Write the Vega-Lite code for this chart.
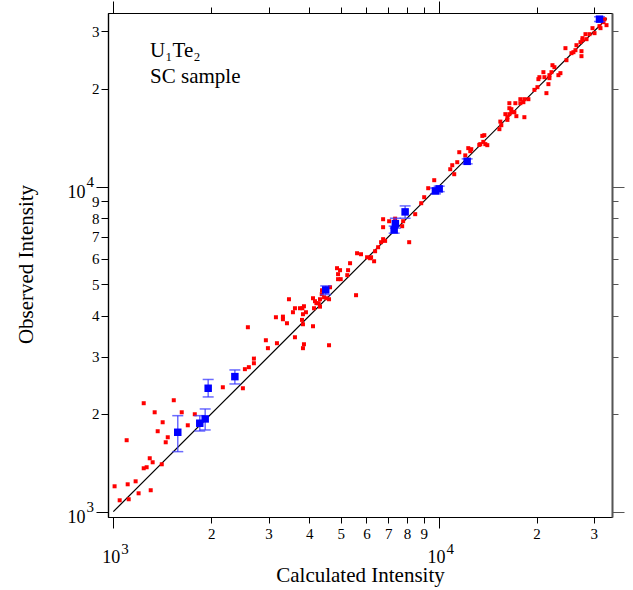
{
  "$schema": "https://vega.github.io/schema/vega-lite/v6.json",
  "width": 504,
  "height": 504,
  "autosize": "none",
  "padding": {"left": 108, "top": 13, "right": 21, "bottom": 73},
  "background": "#ffffff",
  "config": {
    "view": {"stroke": null},
    "font": "Liberation Serif",
    "style": {"guide-label": {"font": "Liberation Serif"}, "guide-title": {"font": "Liberation Serif"}},
    "axis": {
      "grid": false,
      "labelFont": "Liberation Serif",
      "titleFont": "Liberation Serif",
      "labelColor": "#000000",
      "titleColor": "#000000",
      "tickColor": "#000000",
      "domainColor": "#000000",
      "titleFontWeight": "normal",
      "labelOverlap": false,
      "labelFlush": false,
      "tickWidth": 1,
      "domainWidth": 1.2
    }
  },
  "datasets": {
    "refl": [
      {"calc": 1009, "obs": 1197}, {"calc": 1046, "obs": 1084}, {"calc": 1115, "obs": 1092},
      {"calc": 1107, "obs": 1214}, {"calc": 1171, "obs": 1240}, {"calc": 1196, "obs": 1139},
      {"calc": 1303, "obs": 1164}, {"calc": 1240, "obs": 1360}, {"calc": 1266, "obs": 1370},
      {"calc": 1294, "obs": 1460}, {"calc": 1321, "obs": 1419}, {"calc": 1409, "obs": 1399},
      {"calc": 1099, "obs": 1659}, {"calc": 1240, "obs": 2156}, {"calc": 1340, "obs": 2022},
      {"calc": 1418, "obs": 1884}, {"calc": 1369, "obs": 1768}, {"calc": 1470, "obs": 1694},
      {"calc": 1449, "obs": 1635}, {"calc": 1534, "obs": 2202}, {"calc": 1623, "obs": 2022},
      {"calc": 1694, "obs": 1844}, {"calc": 1780, "obs": 1994}, {"calc": 2171, "obs": 2414},
      {"calc": 2502, "obs": 2397}, {"calc": 2538, "obs": 2744}, {"calc": 2610, "obs": 2783},
      {"calc": 2705, "obs": 2957}, {"calc": 2705, "obs": 2862}, {"calc": 2592, "obs": 3693},
      {"calc": 2944, "obs": 3368}, {"calc": 2987, "obs": 3184}, {"calc": 3184, "obs": 3298},
      {"calc": 3161, "obs": 3964}, {"calc": 3322, "obs": 3981}, {"calc": 3322, "obs": 3908},
      {"calc": 3418, "obs": 3799}, {"calc": 3467, "obs": 4503}, {"calc": 3617, "obs": 3440},
      {"calc": 3566, "obs": 4107}, {"calc": 3617, "obs": 4225}, {"calc": 3747, "obs": 4225},
      {"calc": 3812, "obs": 4225}, {"calc": 3855, "obs": 4285}, {"calc": 3828, "obs": 4050},
      {"calc": 3910, "obs": 4107}, {"calc": 3802, "obs": 3890}, {"calc": 3828, "obs": 3772},
      {"calc": 4110, "obs": 3719}, {"calc": 3855, "obs": 3274}, {"calc": 3828, "obs": 3184},
      {"calc": 4604, "obs": 3251}, {"calc": 4140, "obs": 4225}, {"calc": 4110, "obs": 4535},
      {"calc": 4169, "obs": 4440}, {"calc": 4210, "obs": 4378}, {"calc": 4319, "obs": 4503},
      {"calc": 4279, "obs": 4378}, {"calc": 4319, "obs": 4273}, {"calc": 4381, "obs": 4799},
      {"calc": 4372, "obs": 4667}, {"calc": 4444, "obs": 4567}, {"calc": 4520, "obs": 4535},
      {"calc": 4604, "obs": 4503}, {"calc": 4637, "obs": 4902}, {"calc": 4872, "obs": 5611},
      {"calc": 4977, "obs": 5532}, {"calc": 4907, "obs": 5378}, {"calc": 4907, "obs": 5191},
      {"calc": 5001, "obs": 5191}, {"calc": 5268, "obs": 5532}, {"calc": 5238, "obs": 5340},
      {"calc": 5343, "obs": 5812}, {"calc": 5574, "obs": 4634}, {"calc": 5614, "obs": 6238},
      {"calc": 5774, "obs": 6194}, {"calc": 6027, "obs": 6063}, {"calc": 6157, "obs": 6020},
      {"calc": 6200, "obs": 6063}, {"calc": 6334, "obs": 5893}, {"calc": 6379, "obs": 6327},
      {"calc": 6516, "obs": 6509}, {"calc": 6655, "obs": 6745}, {"calc": 6751, "obs": 6891},
      {"calc": 6847, "obs": 6808}, {"calc": 8119, "obs": 6745}, {"calc": 6751, "obs": 7937},
      {"calc": 6751, "obs": 7501}, {"calc": 7045, "obs": 7825}, {"calc": 7350, "obs": 7970},
      {"calc": 7726, "obs": 7554}, {"calc": 7780, "obs": 7825}, {"calc": 8472, "obs": 8226},
      {"calc": 8841, "obs": 8890}, {"calc": 9030, "obs": 9276}, {"calc": 9290, "obs": 9887},
      {"calc": 9694, "obs": 10464}, {"calc": 10858, "obs": 11310}, {"calc": 11013, "obs": 11636},
      {"calc": 11168, "obs": 10918}, {"calc": 11410, "obs": 11887}, {"calc": 11574, "obs": 12758},
      {"calc": 12077, "obs": 12474}, {"calc": 12335, "obs": 13130}, {"calc": 12600, "obs": 13035},
      {"calc": 12513, "obs": 12850}, {"calc": 13335, "obs": 13440}, {"calc": 13624, "obs": 14322},
      {"calc": 13820, "obs": 14394}, {"calc": 13721, "obs": 13728}, {"calc": 13431, "obs": 13508},
      {"calc": 13917, "obs": 13508}, {"calc": 14115, "obs": 13411}, {"calc": 15376, "obs": 15020},
      {"calc": 15587, "obs": 15450}, {"calc": 15478, "obs": 15849}, {"calc": 16270, "obs": 16040},
      {"calc": 16270, "obs": 16350}, {"calc": 16040, "obs": 16706}, {"calc": 16500, "obs": 16706},
      {"calc": 16737, "obs": 16940}, {"calc": 16500, "obs": 17426}, {"calc": 16737, "obs": 17303},
      {"calc": 16500, "obs": 18054}, {"calc": 17094, "obs": 16940}, {"calc": 17338, "obs": 16470},
      {"calc": 17215, "obs": 18054}, {"calc": 17836, "obs": 18573}, {"calc": 17836, "obs": 18054},
      {"calc": 18221, "obs": 18185}, {"calc": 18350, "obs": 18573}, {"calc": 18880, "obs": 18573},
      {"calc": 18350, "obs": 16350}, {"calc": 19700, "obs": 19842}, {"calc": 20266, "obs": 21405},
      {"calc": 20411, "obs": 21708}, {"calc": 20126, "obs": 20224}, {"calc": 20997, "obs": 22491},
      {"calc": 21147, "obs": 21708}, {"calc": 21450, "obs": 19385}, {"calc": 21755, "obs": 20660},
      {"calc": 21911, "obs": 21556}, {"calc": 21911, "obs": 22020}, {"calc": 22227, "obs": 22491},
      {"calc": 22386, "obs": 23630}, {"calc": 22700, "obs": 23300}, {"calc": 23350, "obs": 22020},
      {"calc": 23685, "obs": 22335}, {"calc": 24540, "obs": 26660}, {"calc": 24717, "obs": 24486},
      {"calc": 25610, "obs": 25730}, {"calc": 25970, "obs": 25910}, {"calc": 26340, "obs": 26280},
      {"calc": 26530, "obs": 27230}, {"calc": 27490, "obs": 26100}, {"calc": 27490, "obs": 25190},
      {"calc": 27300, "obs": 27820}, {"calc": 27690, "obs": 28620}, {"calc": 27690, "obs": 28220},
      {"calc": 28280, "obs": 29440}, {"calc": 28490, "obs": 28410}, {"calc": 29100, "obs": 29440},
      {"calc": 29720, "obs": 30720}, {"calc": 30150, "obs": 29650}, {"calc": 31230, "obs": 31160},
      {"calc": 31450, "obs": 30720}, {"calc": 32130, "obs": 32060}, {"calc": 32820, "obs": 31380},
      {"calc": 32360, "obs": 32740}
    ],
    "single": [
      {"calc": 1578, "obs": 1755, "lo": 1530, "hi": 1974},
      {"calc": 1844, "obs": 1871, "lo": 1771, "hi": 1974},
      {"calc": 1916, "obs": 1929, "lo": 1784, "hi": 2070},
      {"calc": 1957, "obs": 2397, "lo": 2254, "hi": 2551},
      {"calc": 2364, "obs": 2603, "lo": 2471, "hi": 2729},
      {"calc": 4497, "obs": 4810, "lo": 4654, "hi": 4950},
      {"calc": 7362, "obs": 7695, "lo": 7450, "hi": 7993},
      {"calc": 7300, "obs": 7360, "lo": 7189, "hi": 7560},
      {"calc": 7889, "obs": 8360, "lo": 7993, "hi": 8722},
      {"calc": 9777, "obs": 9700, "lo": 9500, "hi": 9900},
      {"calc": 10040, "obs": 9840, "lo": 9650, "hi": 10030},
      {"calc": 12240, "obs": 11960, "lo": 11750, "hi": 12170},
      {"calc": 31230, "obs": 32740, "lo": 32200, "hi": 33300}
    ],
    "diag": [
      {"calc": 1000, "obs": 1000},
      {"calc": 32900, "obs": 32900}
    ],
    "note": [
      {"calc": 1297, "obs": 25120, "label": "U₁Te₂"},
      {"calc": 1297, "obs": 20810, "label": "SC sample"}
    ]
  },
  "resolve": {"axis": {"x": "independent", "y": "independent"}},
  "layer": [
    {
      "data": {"name": "diag"},
      "mark": {"type": "line", "color": "#000000", "strokeWidth": 1.2},
      "encoding": {
        "x": {
          "field": "calc", "type": "quantitative",
          "scale": {"type": "log", "domain": [963, 34120]},
          "axis": {
            "orient": "bottom", "values": [1000, 10000],
            "labelExpr": "datum.value == 1000 ? '3' : '4'",
            "ticks": false, "tickSize": 0, "domain": false,
            "labelAlign": "left", "labelBaseline": "top",
            "labelOffset": 7.5, "labelPadding": 24, "labelFontSize": 15,
            "labelFont": "Liberation Serif", "title": null
          }
        },
        "y": {
          "field": "obs", "type": "quantitative",
          "scale": {"type": "log", "domain": [963, 34200]},
          "axis": {
            "orient": "left", "values": [1000, 10000],
            "labelExpr": "datum.value == 1000 ? '3' : '4'",
            "ticks": false, "tickSize": 0, "domain": false,
            "labelAlign": "left", "labelBaseline": "middle",
            "labelOffset": -5, "labelPadding": 22, "labelFontSize": 15,
            "labelFont": "Liberation Serif", "title": null
          }
        }
      }
    },
    {
      "data": {"name": "refl"},
      "mark": {"type": "square", "color": "#ff0000", "size": 16, "opacity": 1},
      "encoding": {
        "x": {
          "field": "calc", "type": "quantitative",
          "scale": {"type": "log", "domain": [963, 34120]},
          "axis": {
            "orient": "bottom",
            "values": [2000, 3000, 4000, 5000, 6000, 7000, 8000, 9000, 20000, 30000],
            "labelExpr": "substring(toString(datum.value), 0, 1)",
            "tickSize": 6, "labelPadding": 3, "labelFontSize": 15,
            "labelFont": "Liberation Serif",
            "title": "Calculated Intensity", "titleFontSize": 21,
            "titleX": 252, "titleY": 64, "titleAlign": "center",
            "titleBaseline": "alphabetic"
          }
        },
        "y": {
          "field": "obs", "type": "quantitative",
          "scale": {"type": "log", "domain": [963, 34200]},
          "axis": {
            "orient": "left",
            "values": [2000, 3000, 4000, 5000, 6000, 7000, 8000, 9000, 20000, 30000],
            "labelExpr": "substring(toString(datum.value), 0, 1)",
            "tickSize": 7, "labelPadding": 2, "labelFontSize": 15,
            "labelFont": "Liberation Serif",
            "title": "Observed Intensity", "titleFontSize": 21,
            "titleX": -76, "titleY": 251, "titleAngle": 270,
            "titleAlign": "center", "titleBaseline": "alphabetic"
          }
        }
      }
    },
    {
      "data": {"name": "single"},
      "mark": {"type": "rule", "color": "#3a3aff", "opacity": 0.75, "strokeWidth": 1.5},
      "encoding": {
        "x": {
          "field": "calc", "type": "quantitative",
          "scale": {"type": "log", "domain": [963, 34120]},
          "axis": {
            "orient": "top",
            "values": [2000, 3000, 4000, 5000, 6000, 7000, 8000, 9000, 20000, 30000],
            "labels": false, "tickSize": 6, "title": null
          }
        },
        "y": {
          "field": "lo", "type": "quantitative",
          "scale": {"type": "log", "domain": [963, 34200]},
          "axis": {
            "orient": "right",
            "values": [2000, 3000, 4000, 5000, 6000, 7000, 8000, 9000, 20000, 30000],
            "labels": false, "tickSize": 6, "title": null,
            "tickColor": "#555555", "domainColor": "#555555", "domainWidth": 1.6
          }
        },
        "y2": {"field": "hi"}
      }
    },
    {
      "data": {"name": "single"},
      "transform": [{"fold": ["lo", "hi"], "as": ["end", "bound"]}],
      "mark": {"type": "tick", "orient": "horizontal", "color": "#3a3aff", "opacity": 0.75, "size": 11, "thickness": 1.5},
      "encoding": {
        "x": {
          "field": "calc", "type": "quantitative",
          "scale": {"type": "log", "domain": [963, 34120]},
          "axis": {
            "orient": "top", "values": [1000, 10000],
            "labels": false, "tickSize": 12, "title": null
          }
        },
        "y": {
          "field": "bound", "type": "quantitative",
          "scale": {"type": "log", "domain": [963, 34200]},
          "axis": {
            "orient": "right", "values": [1000, 10000],
            "labels": false, "tickSize": 12, "title": null,
            "tickColor": "#555555", "domainColor": "#555555", "domainWidth": 1.6
          }
        }
      }
    },
    {
      "data": {"name": "single"},
      "mark": {"type": "square", "color": "#0000ff", "size": 56, "opacity": 1},
      "encoding": {
        "x": {
          "field": "calc", "type": "quantitative",
          "scale": {"type": "log", "domain": [963, 34120]},
          "axis": {
            "orient": "bottom", "values": [1000, 10000],
            "labelExpr": "'10'", "tickSize": 11, "labelPadding": 20,
            "labelOffset": -2.5, "labelFontSize": 18,
            "labelFont": "Liberation Serif", "title": null
          }
        },
        "y": {
          "field": "obs", "type": "quantitative",
          "scale": {"type": "log", "domain": [963, 34200]},
          "axis": {
            "orient": "left", "values": [1000, 10000],
            "labelExpr": "'10'", "tickSize": 12, "labelPadding": 11,
            "labelBaseline": "middle", "labelOffset": 5.5, "labelFontSize": 18,
            "labelFont": "Liberation Serif", "title": null
          }
        }
      }
    },
    {
      "data": {"name": "note"},
      "mark": {"type": "text", "font": "Liberation Serif", "fontSize": 21, "align": "left", "baseline": "alphabetic", "color": "#000000"},
      "encoding": {
        "x": {"field": "calc", "type": "quantitative", "scale": {"type": "log", "domain": [963, 34120]}, "axis": null},
        "y": {"field": "obs", "type": "quantitative", "scale": {"type": "log", "domain": [963, 34200]}, "axis": null},
        "text": {"field": "label"}
      }
    }
  ]
}
